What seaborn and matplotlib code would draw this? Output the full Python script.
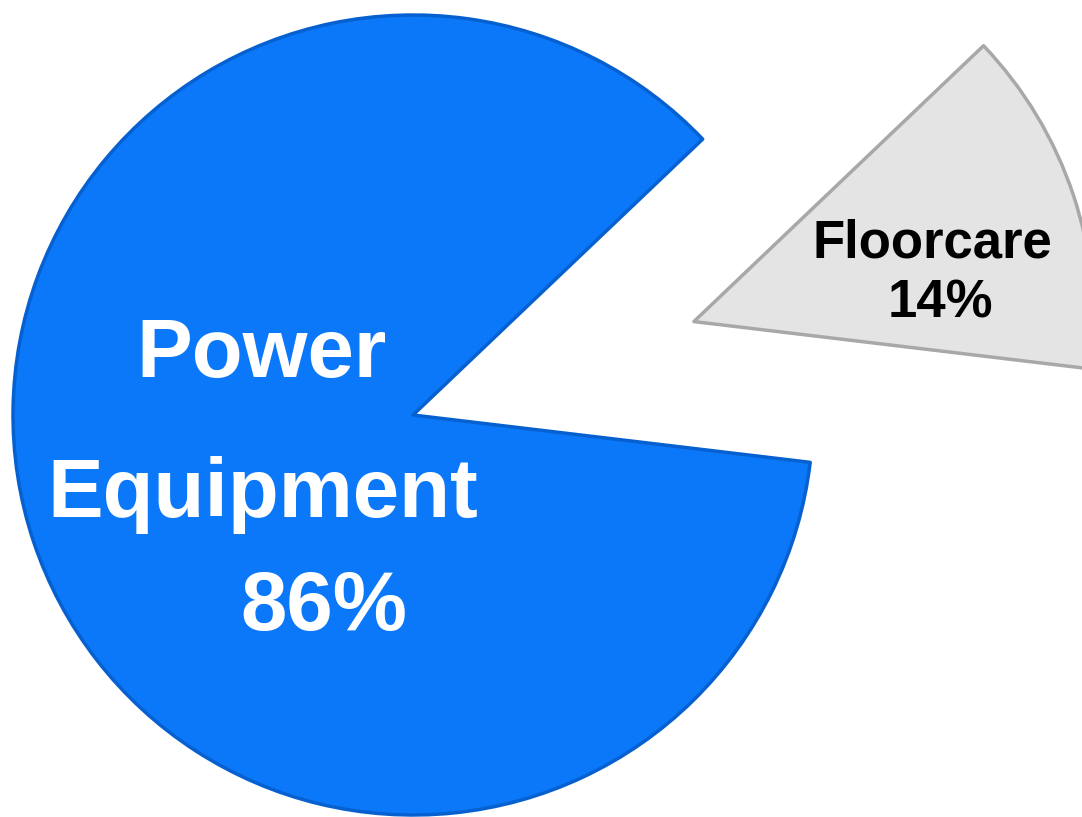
import matplotlib
matplotlib.use("Agg")
import matplotlib.pyplot as plt
import seaborn as sns

# chart data
segments = ["Floorcare", "Power Equipment"]
shares = [14, 86]
explode_amt = [0.74, 0.0]
slice_colors = ["#e4e4e4", "#0a78f8"]
edge_colors = ["#a8a8a8", "#0660d0"]

sns.set_theme(style="white")
plt.rcParams["font.family"] = ["Liberation Sans", "DejaVu Sans"]

fig = plt.figure(figsize=(10.82, 8.17), dpi=100)
ax = fig.add_axes([0, 0, 1, 1])

wedges, _ = ax.pie(shares, explode=explode_amt, colors=slice_colors,
                   startangle=-6.8, counterclock=True, radius=1.0,
                   wedgeprops=dict(linewidth=2.5, joinstyle="round"))
for w, ec in zip(wedges, edge_colors):
    w.set_edgecolor(ec)

ax.set_xlim(-413 / 400, (1082 - 413) / 400)
ax.set_ylim(-(817 - 415) / 400, 415 / 400)
ax.set_aspect("equal")
ax.axis("off")

# labels
big = dict(color="white", fontsize=60, fontweight="bold", ha="center", va="baseline")
ax.text(-0.3775, 0.095, "Power", **big)
ax.text(-0.375, -0.255, "Equipment", **big)
ax.text(-0.2225, -0.5375, f"{shares[1]}%", **big)

small = dict(color="black", fontsize=38, fontweight="bold", ha="center", va="baseline")
ax.text(1.2975, 0.395, segments[0], **small)
ax.text(1.3175, 0.245, f"{shares[0]}%", **small)

fig.savefig("out.png", dpi=100)
